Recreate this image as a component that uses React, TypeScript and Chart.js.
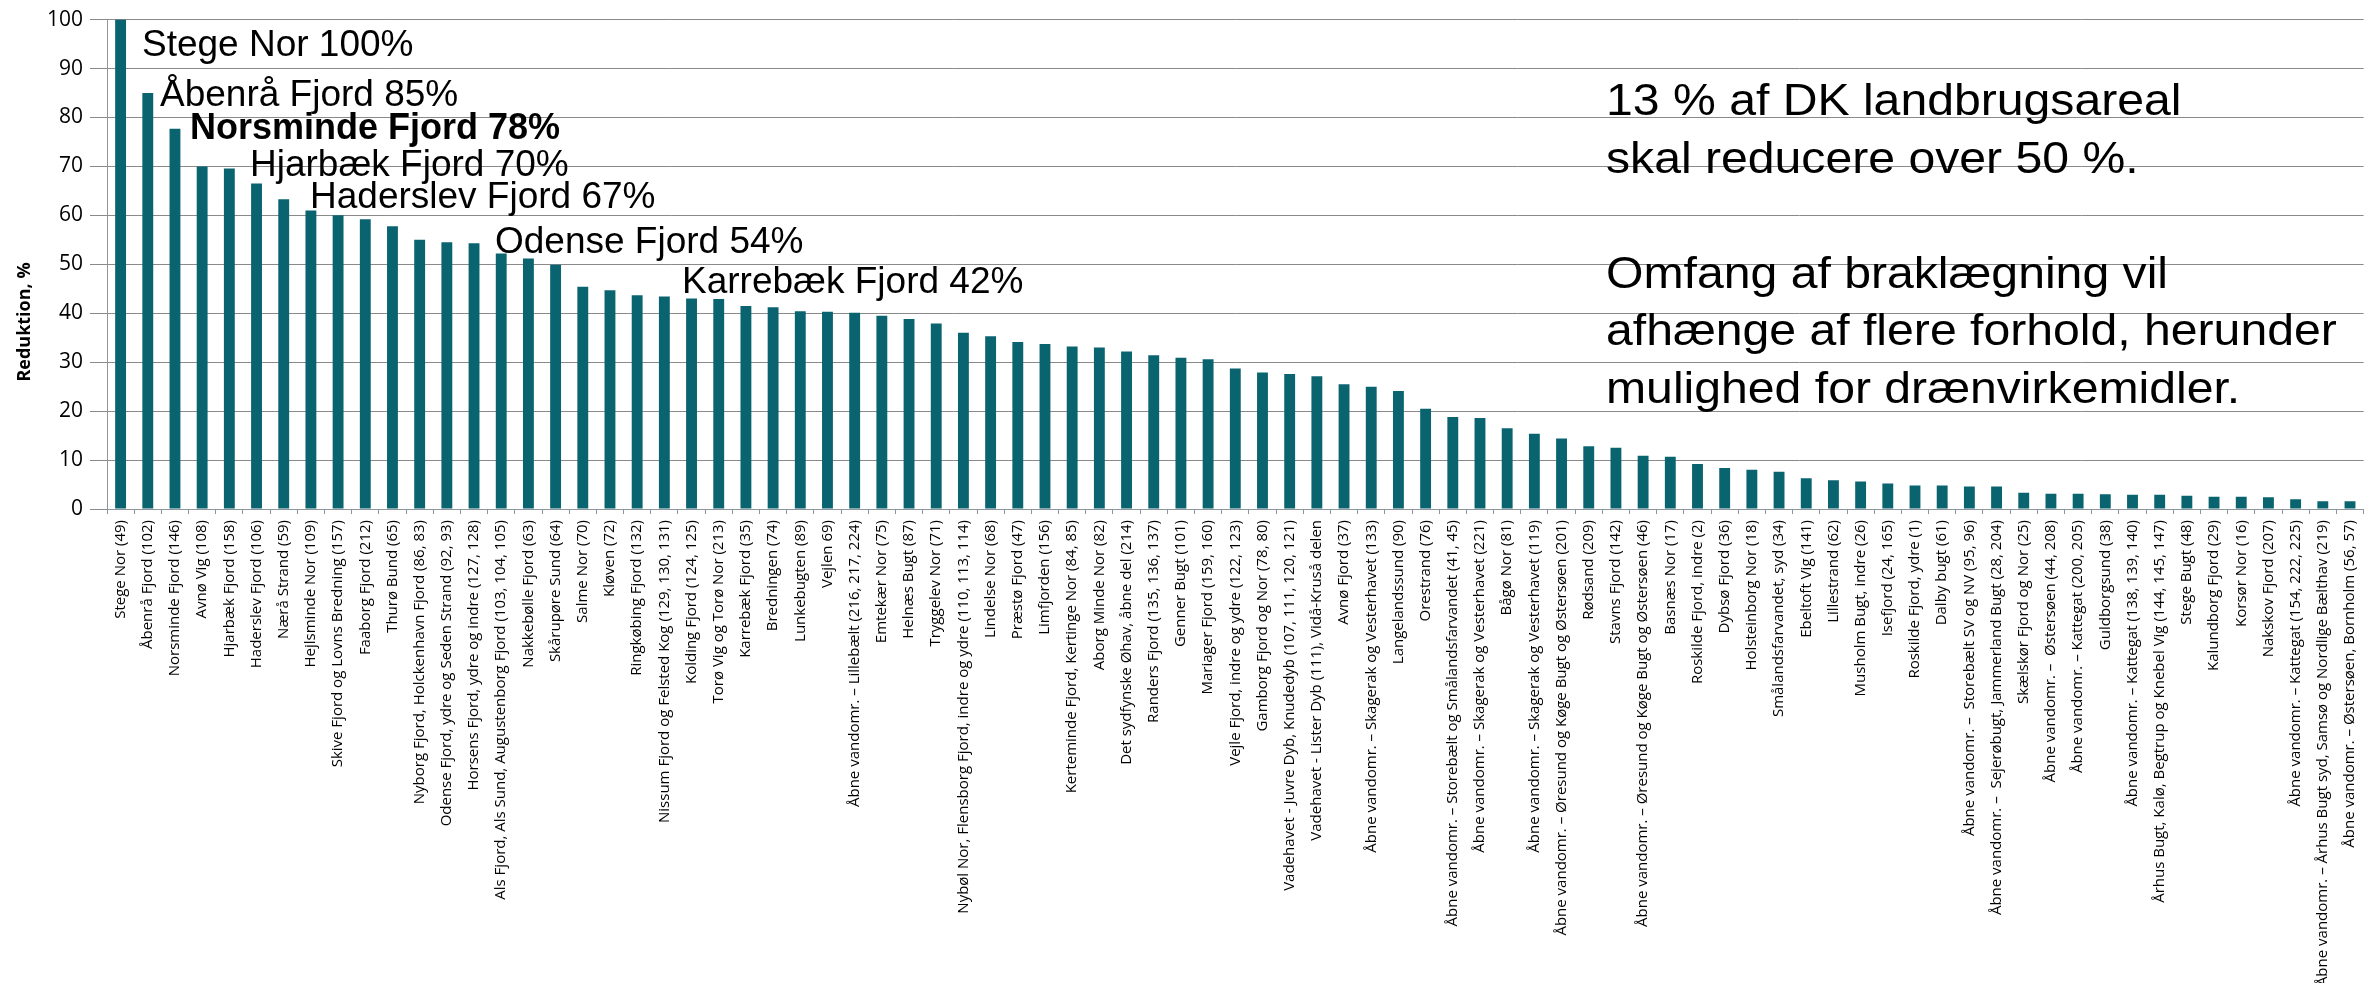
import React, { useEffect, useRef } from 'react';
import { Chart, registerables } from 'chart.js';

Chart.register(...registerables);

const categories: string[] = [
  'Stege Nor (49)',
  'Åbenrå Fjord (102)',
  'Norsminde Fjord (146)',
  'Avnø Vig (108)',
  'Hjarbæk Fjord (158)',
  'Haderslev Fjord (106)',
  'Nærå Strand (59)',
  'Hejlsminde Nor (109)',
  'Skive Fjord og Lovns Bredning (157)',
  'Faaborg Fjord (212)',
  'Thurø Bund (65)',
  'Nyborg Fjord, Holckenhavn Fjord (86, 83)',
  'Odense Fjord, ydre og Seden Strand (92, 93)',
  'Horsens Fjord, ydre og indre (127, 128)',
  'Als Fjord, Als Sund, Augustenborg Fjord (103, 104, 105)',
  'Nakkebølle Fjord (63)',
  'Skårupøre Sund (64)',
  'Salme Nor (70)',
  'Kløven (72)',
  'Ringkøbing Fjord (132)',
  'Nissum Fjord og Felsted Kog (129, 130, 131)',
  'Kolding Fjord (124, 125)',
  'Torø Vig og Torø Nor (213)',
  'Karrebæk Fjord (35)',
  'Bredningen (74)',
  'Lunkebugten (89)',
  'Vejlen 69)',
  'Åbne vandomr. – Lillebælt (216, 217, 224)',
  'Emtekær Nor (75)',
  'Helnæs Bugt (87)',
  'Tryggelev Nor (71)',
  'Nybøl Nor, Flensborg Fjord, indre og ydre (110, 113, 114)',
  'Lindelse Nor (68)',
  'Præstø Fjord (47)',
  'Limfjorden (156)',
  'Kerteminde Fjord, Kertinge Nor (84, 85)',
  'Aborg Minde Nor (82)',
  'Det sydfynske Øhav, åbne del (214)',
  'Randers Fjord (135, 136, 137)',
  'Genner Bugt (101)',
  'Mariager Fjord (159, 160)',
  'Vejle Fjord, indre og ydre (122, 123)',
  'Gamborg Fjord og Nor (78, 80)',
  'Vadehavet - Juvre Dyb, Knudedyb (107, 111, 120, 121)',
  'Vadehavet - Lister Dyb (111), Vidå-Kruså delen',
  'Avnø Fjord (37)',
  'Åbne vandomr. – Skagerak og Vesterhavet (133)',
  'Langelandssund (90)',
  'Orestrand (76)',
  'Åbne vandomr. – Storebælt og Smålandsfarvandet (41, 45)',
  'Åbne vandomr. – Skagerak og Vesterhavet (221)',
  'Bågø Nor (81)',
  'Åbne vandomr. – Skagerak og Vesterhavet (119)',
  'Åbne vandomr. – Øresund og Køge Bugt og Østersøen (201)',
  'Rødsand (209)',
  'Stavns Fjord (142)',
  'Åbne vandomr. – Øresund og Køge Bugt og Østersøen (46)',
  'Basnæs Nor (17)',
  'Roskilde Fjord, indre (2)',
  'Dybsø Fjord (36)',
  'Holsteinborg Nor (18)',
  'Smålandsfarvandet, syd (34)',
  'Ebeltoft Vig (141)',
  'Lillestrand (62)',
  'Musholm Bugt, indre (26)',
  'Isefjord (24, 165)',
  'Roskilde Fjord, ydre (1)',
  'Dalby bugt (61)',
  'Åbne vandomr. –  Storebælt SV og NV (95, 96)',
  'Åbne vandomr. –  Sejerøbugt, Jammerland Bugt (28, 204)',
  'Skælskør Fjord og Nor (25)',
  'Åbne vandomr. –  Østersøen (44, 208)',
  'Åbne vandomr. – Kattegat (200, 205)',
  'Guldborgsund (38)',
  'Åbne vandomr. – Kattegat (138, 139, 140)',
  'Århus Bugt, Kalø, Begtrup og Knebel Vig (144, 145, 147)',
  'Stege Bugt (48)',
  'Kalundborg Fjord (29)',
  'Korsør Nor (16)',
  'Nakskov Fjord (207)',
  'Åbne vandomr. – Kattegat (154, 222, 225)',
  'Åbne vandomr. – Århus Bugt syd, Samsø og Nordlige Bælthav (219)',
  'Åbne vandomr. – Østersøen, Bornholm (56, 57)',
];

const reduction: number[] = [
  100, 85, 77.7, 70, 69.6, 66.5, 63.3, 61, 60, 59.2,
  57.8, 55, 54.5, 54.3, 52.2, 51.2, 49.9, 45.4, 44.7, 43.7,
  43.4, 43.0, 42.9, 41.5, 41.2, 40.4, 40.3, 40.1, 39.5, 38.8,
  37.9, 36.0, 35.3, 34.1, 33.7, 33.2, 33.0, 32.2, 31.4, 30.9,
  30.6, 28.7, 27.9, 27.6, 27.1, 25.5, 25.0, 24.1, 20.5, 18.8,
  18.6, 16.5, 15.4, 14.4, 12.8, 12.5, 10.9, 10.7, 9.2, 8.4,
  8.0, 7.6, 6.3, 5.9, 5.6, 5.2, 4.8, 4.8, 4.6, 4.6,
  3.3, 3.1, 3.1, 3.0, 2.9, 2.9, 2.7, 2.5, 2.5, 2.4,
  2.0, 1.6, 1.6,
];

const yTitle = 'Reduktion, %';

const annotations = [
  { text: 'Stege Nor 100%', bold: false },
  { text: 'Åbenrå Fjord 85%', bold: false },
  { text: 'Norsminde Fjord 78%', bold: true },
  { text: 'Hjarbæk Fjord 70%', bold: false },
  { text: 'Haderslev Fjord 67%', bold: false },
  { text: 'Odense Fjord 54%', bold: false },
  { text: 'Karrebæk Fjord 42%', bold: false },
];

const noteLines: string[] = [
  '13 % af DK landbrugsareal',
  'skal reducere over 50 %.',
  '',
  'Omfang af braklægning vil',
  'afhænge af flere forhold, herunder',
  'mulighed for drænvirkemidler.',
];

// layout (pixels) for overlay text
const annotationPos = [
  [142, 56], [160, 106], [190, 139], [250, 176], [310, 208], [495, 253], [682, 293],
];

const W = 2374;
const H = 983;

const overlayPlugin = {
  id: 'overlayText',
  afterDraw(chart: any) {
    const ctx: CanvasRenderingContext2D = chart.ctx;
    ctx.save();
    ctx.fillStyle = '#000';
    ctx.textBaseline = 'alphabetic';
    ctx.textAlign = 'left';
    annotations.forEach((a, i) => {
      const [x, y] = annotationPos[i];
      ctx.font = `${a.bold ? 'bold ' : ''}${a.bold ? 36 : 37}px "Liberation Sans", Arial, sans-serif`;
      ctx.fillText(a.text, x, y);
    });
    ctx.font = '45px "Liberation Sans", Arial, sans-serif';
    noteLines.forEach((line, i) => {
      if (!line) return;
      ctx.save();
      ctx.translate(1606, 115 + i * 57.6);
      ctx.scale(1.07, 1);
      ctx.fillText(line, 0, 0);
      ctx.restore();
    });
    // y axis title
    ctx.save();
    ctx.translate(25, 322);
    ctx.rotate(-Math.PI / 2);
    ctx.textAlign = 'center';
    ctx.textBaseline = 'middle';
    ctx.font = 'bold 18px "Open Sans", sans-serif';
    ctx.fillText(yTitle, 0, 0);
    ctx.restore();
    ctx.restore();
  },
};

export default function App() {
  const ref = useRef<HTMLCanvasElement | null>(null);

  useEffect(() => {
    document.body.style.margin = '0';
    if (!ref.current) return;
    const chart = new Chart(ref.current, {
      type: 'bar',
      data: {
        labels: categories,
        datasets: [
          {
            data: reduction,
            backgroundColor: '#0A6470',
            borderWidth: 0,
            categoryPercentage: 1,
            barPercentage: 0.4,
          },
        ],
      },
      options: {
        responsive: false,
        animation: false,
        devicePixelRatio: 1,
        layout: { padding: { left: 0, right: 0, top: 19, bottom: 0 } },
        plugins: {
          legend: { display: false },
          tooltip: { enabled: false },
          title: { display: false },
        },
        scales: {
          x: {
            afterFit: (scale: any) => {
              scale.height = H - 509;
            },
            grid: {
              display: true,
              drawOnChartArea: false,
              drawTicks: true,
              tickLength: 5,
              color: '#8c969b',
              offset: true,
            },
            border: { display: true, color: '#8c969b', width: 1 },
            ticks: {
              autoSkip: false,
              maxRotation: 90,
              minRotation: 90,
              padding: 6,
              color: '#000',
              font: { family: '"Open Sans", sans-serif', size: 15 },
            },
          },
          y: {
            min: 0,
            max: 100,
            afterFit: (scale: any) => {
              scale.width = 107;
            },
            grid: {
              color: '#8a8a8a',
              lineWidth: 1,
              tickLength: 17,
              drawTicks: true,
            },
            border: { display: true, color: '#8c969b', width: 1 },
            ticks: {
              stepSize: 10,
              padding: 7,
              color: '#000',
              font: { family: '"Open Sans", sans-serif', size: 21 },
            },
          },
        },
      },
      plugins: [overlayPlugin],
    });
    return () => chart.destroy();
  }, []);

  return (
    <div style={{ position: 'absolute', left: 0, top: 0, width: W, height: H, background: '#fff' }}>
      <canvas ref={ref} width={W} height={H} style={{ display: 'block', width: W, height: H }} />
    </div>
  );
}
